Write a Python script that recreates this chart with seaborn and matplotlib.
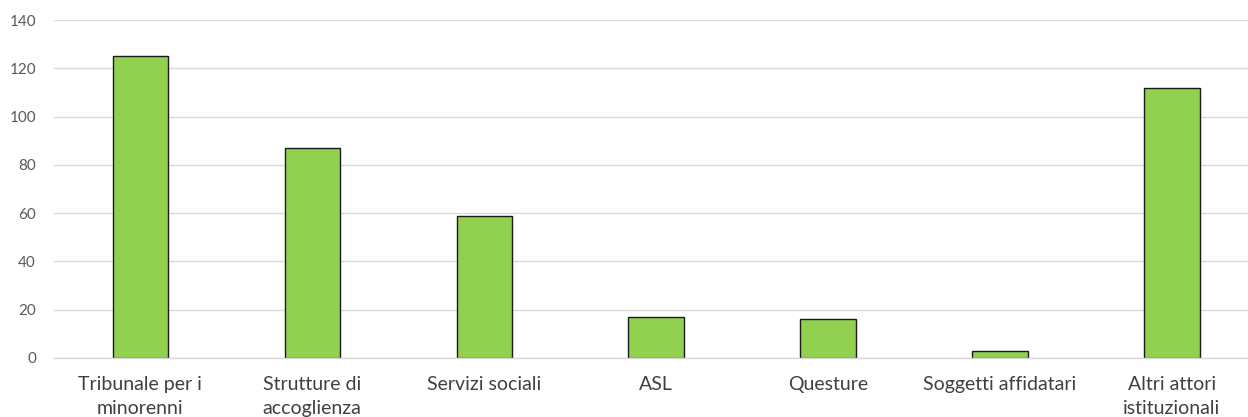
import matplotlib
matplotlib.use("Agg")
import matplotlib.pyplot as plt
import seaborn as sns
import pandas as pd

categories = [
    "Tribunale per i\nminorenni",
    "Strutture di\naccoglienza",
    "Servizi sociali",
    "ASL",
    "Questure",
    "Soggetti affidatari",
    "Altri attori\nistituzionali",
]
values = [125, 87, 59, 17, 16, 3, 112]
y_ticks = [0, 20, 40, 60, 80, 100, 120, 140]

df = pd.DataFrame({"categoria": categories, "valore": values})

sns.set_theme(style="white")
plt.rcParams["font.family"] = ["Lato", "DejaVu Sans"]

fig = plt.figure(figsize=(12.48, 4.17), dpi=100)
# the plot area runs slightly past the right edge, as in the cropped original
ax = fig.add_axes([0.0433, 0.1415, 0.9647, 0.8105])

sns.barplot(data=df, x="categoria", y="valore", color="#92D050",
            edgecolor="#1a1a1a", linewidth=1.0, width=0.32,
            saturation=1, ax=ax)

ax.set_ylim(0, 140)
ax.set_yticks(y_ticks)
ax.yaxis.grid(True, color="#d9d9d9", linewidth=1.0)
ax.set_axisbelow(True)
for s in ["top", "right", "left"]:
    ax.spines[s].set_visible(False)
ax.spines["bottom"].set_color("#d9d9d9")
ax.spines["bottom"].set_linewidth(1.0)
ax.tick_params(axis="y", length=0, labelsize=11, colors="#595959", pad=13)
ax.tick_params(axis="x", length=0, labelsize=14, colors="#404040", pad=13)
ax.set_xlabel("")
ax.set_ylabel("")
for lbl in ax.get_xticklabels():
    lbl.set_linespacing(1.5)

fig.savefig("out.png", dpi=100)
